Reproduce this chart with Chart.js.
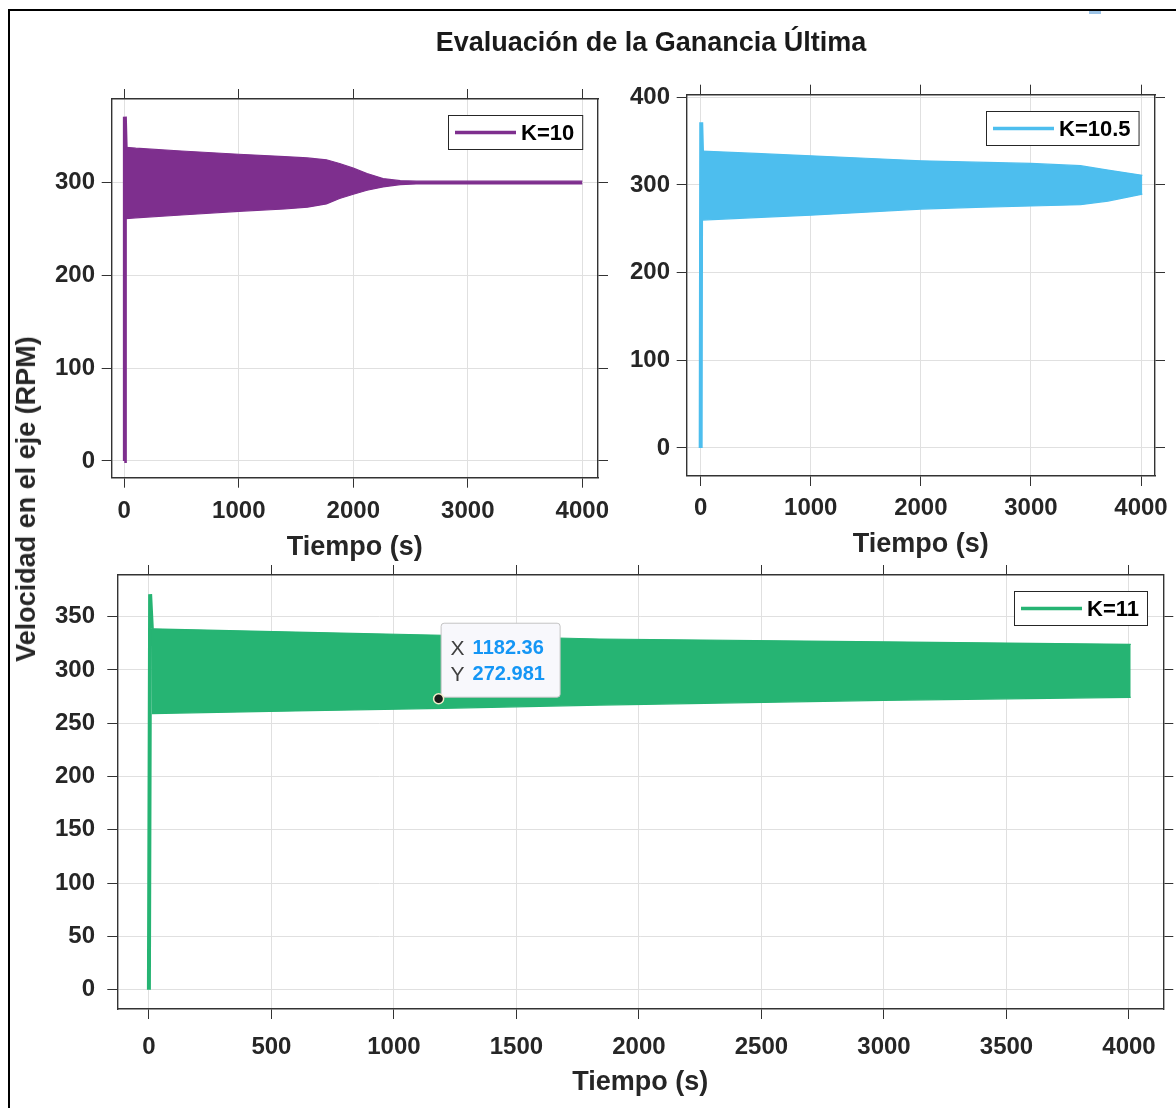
<!DOCTYPE html>
<html>
<head>
<meta charset="utf-8">
<title>Evaluación de la Ganancia Última</title>
<script src="https://cdn.jsdelivr.net/npm/chart.js@4.4.1/dist/chart.umd.min.js"></script>
<style>
  body { margin: 0; background: #fff; width: 1176px; height: 1108px; overflow: hidden; position: relative;
         font-family: "Liberation Sans", Arial, sans-serif; }
  canvas { position: absolute; left: 0; top: 0; }
  #frame { position: absolute; left: 8px; top: 9px; width: 1200px; height: 1200px;
           border-top: 2.5px solid #000; border-left: 2.5px solid #000; }
  #mark { position: absolute; left: 1089px; top: 11px; width: 12px; height: 3px; background: #9cc3e6; }
  #title { position: absolute; left: 651px; top: 28px; transform: translateX(-50%); white-space: nowrap;
           font-weight: bold; font-size: 27px; line-height: 28px; color: #1a1a1a; }
  #ylabel { position: absolute; left: 26px; top: 499px; transform: translate(-50%, -50%) rotate(-90deg);
            white-space: nowrap; font-weight: bold; font-size: 27px; line-height: 28px; color: #262626; }
</style>
</head>
<body>
<div id="frame"></div>
<div id="mark"></div>
<canvas id="c10" width="1176" height="1108"></canvas>
<canvas id="c105" width="1176" height="1108"></canvas>
<canvas id="c11" width="1176" height="1108"></canvas>
<div id="title">Evaluación de la Ganancia Última</div>
<div id="ylabel">Velocidad en el eje (RPM)</div>

<script>
// DATA (envelope of the fast oscillation)
const spikeT = [0, 5, 12];

// K = 10
const spike10 = [0, 371, 338];
const t10 = [12, 100, 500, 1000, 1400, 1600, 1765, 1880, 2000, 2120, 2260, 2410, 2550, 2700, 4000];
const up10 = [338, 337, 334, 330.5, 328, 326.5, 324.5, 320.5, 315.5, 309.7, 304.3, 302, 301.5, 301.5, 301.5];
const lo10 = [261, 262, 265, 269, 271.5, 273.5, 277, 282.8, 287.4, 291.7, 295.3, 297.8, 298.5, 298.5, 298.5];

// K = 10.5
const spike105 = [0, 371.5, 338.7];
const t105 = [12, 500, 1000, 1500, 2000, 2500, 3000, 3450, 3700, 4012];
const up105 = [338.7, 336, 333.3, 330.5, 327.6, 326, 324.6, 322, 317, 311];
const lo105 = [260, 262.8, 265.6, 269, 272.5, 274.5, 276, 277.5, 281.6, 289.5];

// K = 11
const spike11 = [0, 371, 338.5];
const t11 = [12, 600, 1200, 1840, 3000, 4007];
const up11 = [338.5, 335.5, 332.5, 329, 326.3, 324];
const lo11 = [259, 261.5, 264, 267, 271.5, 274.3];

// data tip
const tipX = [1182.36];
const tipY = [272.981];

// tick labels
const xTicksTop = [0, 1000, 2000, 3000, 4000];
const yTicksTL = [0, 100, 200, 300];
const yTicksTR = [0, 100, 200, 300, 400];
const xTicksBot = [0, 500, 1000, 1500, 2000, 2500, 3000, 3500, 4000];
const yTicksBot = [0, 50, 100, 150, 200, 250, 300, 350];

const FONT = '"Liberation Sans", Arial, sans-serif';
const INK = '#262626';

function pts(xs, ys) {
  return xs.map((x, i) => ({ x: x, y: ys[i] }));
}

// LEGEND + DATATIP
const extras = {
  id: 'extras',
  afterDatasetsDraw(chart, args, o) {
    const ctx = chart.ctx, a = chart.chartArea;
    ctx.save();
    ctx.font = 'bold 22px ' + FONT;
    const tw = ctx.measureText(o.label).width;
    const w = 74 + tw + 7, h = 34;
    const x = Math.round(a.right - 16 - w), y = Math.round(a.top + 16);
    ctx.fillStyle = '#fff';
    ctx.fillRect(x, y, w, h);
    ctx.strokeStyle = INK;
    ctx.lineWidth = 1;
    ctx.strokeRect(x + 0.5, y + 0.5, w, h);
    ctx.strokeStyle = o.color;
    ctx.lineWidth = 3.5;
    ctx.beginPath();
    ctx.moveTo(x + 7, y + h / 2 + 0.5);
    ctx.lineTo(x + 68, y + h / 2 + 0.5);
    ctx.stroke();
    ctx.fillStyle = '#000';
    ctx.textBaseline = 'middle';
    ctx.fillText(o.label, x + 73, y + h / 2 + 2);

    if (o.tip) {
      const px = chart.scales.x.getPixelForValue(tipX[0]);
      const py = chart.scales.y.getPixelForValue(tipY[0]);
      const bx = px + 2, by = py - 76, bw = 119, bh = 74;
      ctx.fillStyle = '#f8f8fc';
      ctx.strokeStyle = '#c4c4c4';
      ctx.lineWidth = 1;
      ctx.beginPath();
      ctx.roundRect(bx + 0.5, by + 0.5, bw, bh, 3);
      ctx.fill();
      ctx.stroke();
      ctx.textBaseline = 'middle';
      ctx.font = '21px ' + FONT;
      ctx.fillStyle = '#404040';
      ctx.fillText('X', bx + 10, by + 26);
      ctx.fillText('Y', bx + 10, by + 52);
      ctx.font = 'bold 20px ' + FONT;
      ctx.fillStyle = '#1496f5';
      ctx.fillText(tipX[0].toFixed(2), bx + 32, by + 26);
      ctx.fillText(tipY[0].toFixed(3), bx + 32, by + 52);
      ctx.beginPath();
      ctx.arc(px, py, 5, 0, Math.PI * 2);
      ctx.fillStyle = '#1a1a1a';
      ctx.fill();
      ctx.lineWidth = 1.5;
      ctx.strokeStyle = '#f3eecb';
      ctx.stroke();
    }
    ctx.restore();
  }
};

function scales(lim, xt, yt, lay) {
  const tickFont = { family: FONT, size: 24, weight: 'bold' };
  const grid = { color: '#e0e0e0', tickColor: '#333', tickLength: 10, lineWidth: 1 };
  const border = { color: '#333', width: 1.4 };
  const setX = s => { s.ticks = xt.map(v => ({ value: v })); };
  const setY = s => { s.ticks = yt.map(v => ({ value: v })); };
  return {
    x: {
      type: 'linear', position: 'bottom', min: lim[0], max: lim[1],
      afterBuildTicks: setX, afterFit: s => { s.height = lay.xh; },
      ticks: { font: tickFont, color: INK, padding: lay.xpad, autoSkip: false, maxRotation: 0, callback: v => String(v) },
      grid: grid, border: border,
      title: { display: true, text: 'Tiempo (s)', font: { family: FONT, size: 27, weight: 'bold' }, color: INK, padding: 0 }
    },
    x2: {
      type: 'linear', position: 'top', min: lim[0], max: lim[1],
      afterBuildTicks: setX, afterFit: s => { s.height = 10; },
      ticks: { display: false }, grid: Object.assign({}, grid, { drawOnChartArea: false }), border: border
    },
    y: {
      type: 'linear', position: 'left', min: lim[2], max: lim[3],
      afterBuildTicks: setY, afterFit: s => { s.width = lay.yw; },
      ticks: { font: tickFont, color: INK, padding: lay.ypad, autoSkip: false, callback: v => String(v) },
      grid: grid, border: border
    },
    y2: {
      type: 'linear', position: 'right', min: lim[2], max: lim[3],
      afterBuildTicks: setY, afterFit: s => { s.width = 10; },
      ticks: { display: false }, grid: Object.assign({}, grid, { drawOnChartArea: false }), border: border
    }
  };
}

function makePlot(id, color, label, t, up, lo, spike, lim, xt, yt, lay, tip) {
  return new Chart(document.getElementById(id), {
    type: 'line',
    data: {
      datasets: [
        { data: pts(t, up), borderColor: color, backgroundColor: color, borderWidth: 1.2, fill: '+1', pointRadius: 0, tension: 0 },
        { data: pts(t, lo), borderColor: color, backgroundColor: color, borderWidth: 1.2, fill: false, pointRadius: 0, tension: 0 },
        { data: pts(spikeT, spike), borderColor: color, borderWidth: 4, fill: false, pointRadius: 0, tension: 0 }
      ]
    },
    options: {
      responsive: false,
      animation: false,
      devicePixelRatio: 1,
      layout: { padding: lay.pad },
      scales: scales(lim, xt, yt, lay),
      plugins: {
        legend: { display: false },
        tooltip: { enabled: false },
        extras: { label: label, color: color, tip: tip }
      }
    },
    plugins: [extras]
  });
}

// top left: K=10
makePlot('c10', '#7e2f8e', 'K=10', t10, up10, lo10, spike10,
  [-110, 4137, -18, 390], xTicksTop, yTicksTL,
  { pad: { left: 0, top: 89, right: 568, bottom: 543.8 }, yw: 111.7, xh: 86.5, xpad: 9, ypad: 6.7 }, false);

// top right: K=10.5
makePlot('c105', '#4dbeee', 'K=10.5', t105, up105, lo105, spike105,
  [-127, 4127, -32, 403], xTicksTop, yTicksTR,
  { pad: { left: 0, top: 84.7, right: 11, bottom: 546.8 }, yw: 686.7, xh: 85.2, xpad: 7.6, ypad: 6.7 }, false);

// bottom: K=11
makePlot('c11', '#26b473', 'K=11', t11, up11, lo11, spike11,
  [-129, 4140, -18, 389], xTicksBot, yTicksBot,
  { pad: { left: 0, top: 565, right: 2.7, bottom: 8.8 }, yw: 117.3, xh: 90.2, xpad: 13.9, ypad: 12.3 }, true);
</script>
</body>
</html>
